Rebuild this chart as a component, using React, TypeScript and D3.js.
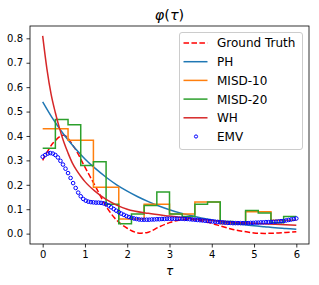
import React, { useEffect, useRef } from "react";
import * as d3 from "d3";

// tau grid used by ground truth and PH
const tauQuarter = [
  0, 0.25, 0.5, 0.75, 1.0, 1.25, 1.5, 1.75, 2.0, 2.25, 2.5, 2.75, 3.0,
  3.25, 3.5, 3.75, 4.0, 4.25, 4.5, 4.75, 5.0, 5.25, 5.5, 5.75, 6.0,
];

const groundTruth = [
  0.3, 0.372, 0.403, 0.352, 0.272, 0.193, 0.112, 0.055, 0.022, 0.003, 0.006,
  0.027, 0.045, 0.056, 0.058, 0.053, 0.042, 0.029, 0.017, 0.009, 0.003, 0.001,
  0.002, 0.005, 0.008,
];

const phValues = [
  0.54, 0.468, 0.406, 0.353, 0.306, 0.266, 0.231, 0.2, 0.174, 0.151, 0.131,
  0.113, 0.098, 0.085, 0.074, 0.064, 0.056, 0.048, 0.042, 0.037, 0.032, 0.028,
  0.024, 0.021, 0.018,
];

const whTau = [
  0, 0.1, 0.2, 0.3, 0.4, 0.5, 0.6, 0.7, 0.8, 0.9, 1.0, 1.25, 1.5, 1.75, 2.0,
  2.5, 3.0, 3.5, 4.0, 4.5, 5.0, 5.5, 6.0,
];
const whValues = [
  0.81, 0.675, 0.57, 0.495, 0.43, 0.375, 0.33, 0.29, 0.26, 0.235, 0.213, 0.172,
  0.14, 0.117, 0.1, 0.083, 0.072, 0.062, 0.054, 0.047, 0.042, 0.038, 0.034,
];

const misd10Edges = [0, 0.6, 1.2, 1.8, 2.4, 3.0, 3.6, 4.2, 4.8, 5.4, 6.0];
const misd10Values = [0.43, 0.383, 0.19, 0.06, 0.12, 0.08, 0.13, 0.04, 0.09, 0.055];

const misd20Edges = [
  0, 0.3, 0.6, 0.9, 1.2, 1.5, 1.8, 2.1, 2.4, 2.7, 3.0, 3.3, 3.6, 3.9, 4.2,
  4.5, 4.8, 5.1, 5.4, 5.7, 6.0,
];
const misd20Values = [
  0.35, 0.467, 0.446, 0.279, 0.294, 0.12, 0.04, 0.08, 0.115, 0.17, 0.08, 0.07,
  0.12, 0.13, 0.05, 0.04, 0.095, 0.085, 0.045, 0.07,
];

// EMV estimate, 101 points on [0, 6]
const emvValues = [
  0.315, 0.322, 0.328, 0.33, 0.328, 0.322, 0.312, 0.298, 0.283, 0.266, 0.248,
  0.228, 0.207, 0.187, 0.168, 0.153, 0.142, 0.135, 0.131, 0.129, 0.128, 0.127,
  0.127, 0.126, 0.124, 0.12, 0.115, 0.108, 0.101, 0.094, 0.088, 0.082, 0.077,
  0.072, 0.068, 0.065, 0.062, 0.06, 0.058, 0.057, 0.057, 0.057, 0.057, 0.058,
  0.058, 0.059, 0.059, 0.06, 0.06, 0.061, 0.061, 0.061, 0.061, 0.061, 0.061,
  0.061, 0.06, 0.06, 0.059, 0.058, 0.057, 0.056, 0.055, 0.054, 0.053, 0.052,
  0.051, 0.05, 0.049, 0.048, 0.047, 0.046, 0.045, 0.044, 0.044, 0.043, 0.043,
  0.043, 0.043, 0.043, 0.043, 0.043, 0.044, 0.044, 0.045, 0.045, 0.046, 0.046,
  0.047, 0.047, 0.048, 0.048, 0.049, 0.05, 0.051, 0.052, 0.054, 0.056, 0.058,
  0.06, 0.062,
];
const emvTau = emvValues.map((_, i) => (i * 6) / (emvValues.length - 1));

const xTicks = [0, 1, 2, 3, 4, 5, 6];
const yTicks = [0, 0.1, 0.2, 0.3, 0.4, 0.5, 0.6, 0.7, 0.8];

const legendItems = [
  { label: "Ground Truth", color: "#ff0000", dash: "5.55,2.4", kind: "line" },
  { label: "PH", color: "#1f77b4", dash: null, kind: "line" },
  { label: "MISD-10", color: "#ff7f0e", dash: null, kind: "line" },
  { label: "MISD-20", color: "#2ca02c", dash: null, kind: "line" },
  { label: "WH", color: "#d62728", dash: null, kind: "line" },
  { label: "EMV", color: "#0000ff", dash: null, kind: "dot" },
];

const FONT = "DejaVu Sans, sans-serif";

const App = () => {
  const ref = useRef<SVGSVGElement | null>(null);

  useEffect(() => {
    const width = 319;
    const height = 285;
    const margin = { top: 26, right: 10, bottom: 41, left: 30 };
    const svg = d3.select(ref.current);
    svg.selectAll("*").remove();

    const x = d3
      .scaleLinear()
      .domain([-0.3, 6.3])
      .range([margin.left, width - margin.right]);
    const y = d3
      .scaleLinear()
      .domain([-0.0425, 0.8505])
      .range([height - margin.bottom, margin.top]);

    svg.append("rect").attr("width", width).attr("height", height).attr("fill", "#fff");

    const plot = svg.append("g");

    const line = d3
      .line<[number, number]>()
      .x((d) => x(d[0]))
      .y((d) => y(d[1]));

    // ground truth
    plot
      .append("path")
      .datum(tauQuarter.map((t, i) => [t, groundTruth[i]] as [number, number]))
      .attr("d", line.curve(d3.curveCatmullRom.alpha(0.5)))
      .attr("fill", "none")
      .attr("stroke", "#ff0000")
      .attr("stroke-width", 1.5)
      .attr("stroke-dasharray", "5.55,2.4");

    // PH
    plot
      .append("path")
      .datum(tauQuarter.map((t, i) => [t, phValues[i]] as [number, number]))
      .attr("d", line.curve(d3.curveCatmullRom.alpha(0.5)))
      .attr("fill", "none")
      .attr("stroke", "#1f77b4")
      .attr("stroke-width", 1.5);

    const stepPts = (edges: number[], vals: number[]) =>
      edges.map((e, i) => [e, vals[Math.min(i, vals.length - 1)]] as [number, number]);

    plot
      .append("path")
      .datum(stepPts(misd10Edges, misd10Values))
      .attr("d", line.curve(d3.curveStepAfter))
      .attr("fill", "none")
      .attr("stroke", "#ff7f0e")
      .attr("stroke-width", 1.5);

    plot
      .append("path")
      .datum(stepPts(misd20Edges, misd20Values))
      .attr("d", line.curve(d3.curveStepAfter))
      .attr("fill", "none")
      .attr("stroke", "#2ca02c")
      .attr("stroke-width", 1.5);

    // WH
    plot
      .append("path")
      .datum(whTau.map((t, i) => [t, whValues[i]] as [number, number]))
      .attr("d", line.curve(d3.curveMonotoneX))
      .attr("fill", "none")
      .attr("stroke", "#d62728")
      .attr("stroke-width", 1.5);

    // EMV scatter
    plot
      .selectAll(".emv")
      .data(emvValues)
      .enter()
      .append("circle")
      .attr("cx", (_, i) => x(emvTau[i]))
      .attr("cy", (d) => y(d))
      .attr("r", 1.8)
      .attr("fill", "none")
      .attr("stroke", "#0000ff")
      .attr("stroke-width", 1);

    // axes
    const xAxis = svg
      .append("g")
      .attr("transform", `translate(0,${height - margin.bottom})`)
      .call(d3.axisBottom(x).tickValues(xTicks).tickFormat(d3.format("d")).tickSize(3.5).tickPadding(3.5));
    const yAxis = svg
      .append("g")
      .attr("transform", `translate(${margin.left},0)`)
      .call(d3.axisLeft(y).tickValues(yTicks).tickFormat(d3.format(".1f")).tickSize(3.5).tickPadding(3.5));
    [xAxis, yAxis].forEach((g) => {
      g.select(".domain").remove();
      g.selectAll("line").attr("stroke", "#000").attr("stroke-width", 0.8);
      g.selectAll("text").attr("fill", "#000").style("font-size", "10px").style("font-family", FONT);
    });

    // spines
    svg
      .append("rect")
      .attr("x", margin.left)
      .attr("y", margin.top)
      .attr("width", width - margin.left - margin.right)
      .attr("height", height - margin.top - margin.bottom)
      .attr("fill", "none")
      .attr("stroke", "#000")
      .attr("stroke-width", 0.8);

    // title
    const title = svg
      .append("text")
      .attr("x", (margin.left + width - margin.right) / 2)
      .attr("y", 20)
      .attr("text-anchor", "middle")
      .style("font-family", FONT)
      .style("font-size", "14.4px");
    title.append("tspan").style("font-style", "italic").text("φ");
    title.append("tspan").text("(");
    title.append("tspan").style("font-style", "italic").text("τ");
    title.append("tspan").text(")");

    svg
      .append("text")
      .attr("x", (margin.left + width - margin.right) / 2)
      .attr("y", 275)
      .attr("text-anchor", "middle")
      .style("font-family", FONT)
      .style("font-size", "12px")
      .style("font-style", "italic")
      .text("τ");

    // legend
    const lg = svg.append("g");
    lg.append("rect")
      .attr("x", 179.5)
      .attr("y", 32.5)
      .attr("width", 123)
      .attr("height", 117)
      .attr("rx", 2.5)
      .attr("fill", "#fff")
      .attr("fill-opacity", 0.8)
      .attr("stroke", "#cccccc")
      .attr("stroke-width", 1);

    legendItems.forEach((item, i) => {
      const cy = 43 + i * 18.7;
      if (item.kind === "line") {
        lg.append("line")
          .attr("x1", 183.5)
          .attr("x2", 207.5)
          .attr("y1", cy)
          .attr("y2", cy)
          .attr("stroke", item.color)
          .attr("stroke-width", 1.5)
          .attr("stroke-dasharray", item.dash);
      } else {
        lg.append("circle")
          .attr("cx", 196)
          .attr("cy", cy)
          .attr("r", 1.6)
          .attr("fill", "none")
          .attr("stroke", item.color)
          .attr("stroke-width", 1);
      }
      lg.append("text")
        .attr("x", 217)
        .attr("y", cy + 4.4)
        .style("font-family", FONT)
        .style("font-size", "12px")
        .attr("fill", "#000")
        .text(item.label);
    });
  }, []);

  return (
    <svg
      ref={ref}
      width={319}
      height={285}
      style={{ position: "absolute", left: 0, top: 0 }}
    />
  );
};

export default App;
